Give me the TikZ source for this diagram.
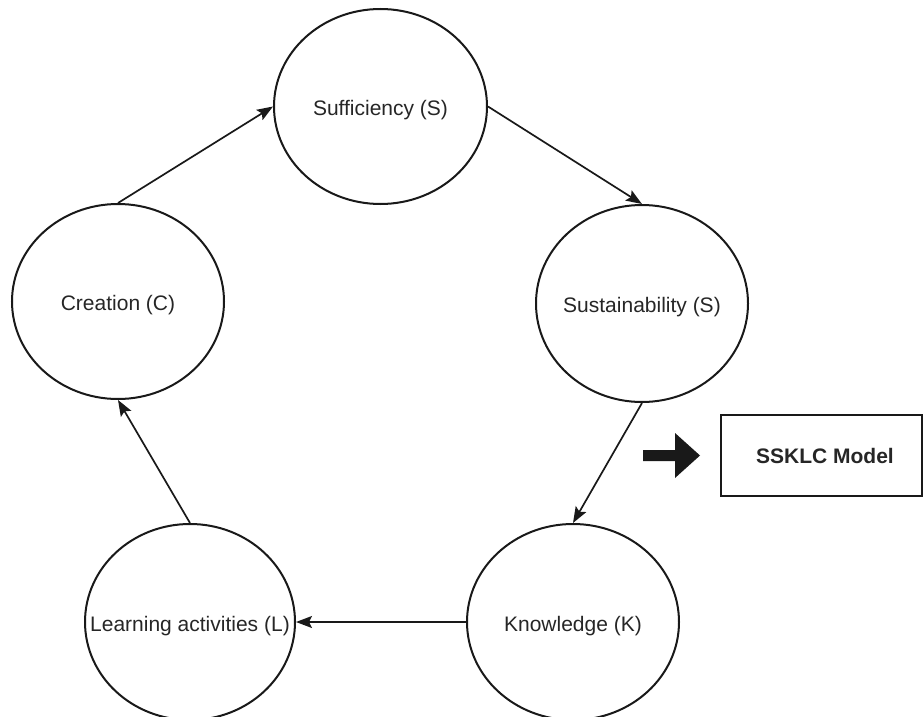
\documentclass[tikz,border=0pt]{standalone}
\usepackage{fontspec}
\setmainfont{Liberation Sans}
\usetikzlibrary{shapes.geometric,arrows.meta}
\tikzset{
  circ/.style={draw=black!90, line width=2pt, ellipse, inner sep=0pt},
  lbl/.style={inner sep=0pt, font=\fontsize{21}{25}\selectfont, text=black!85, yshift=-4pt},
  conn/.style={draw=black!90, line width=1.7pt, -{Stealth[length=16pt,width=12pt,inset=3pt]}},
  modelbox/.style={draw=black!90, line width=2pt, rectangle, inner sep=0pt, minimum width=201pt, minimum height=81pt, font=\bfseries\fontsize{21}{25}\selectfont, text=black!85}
}
\begin{document}
\begin{tikzpicture}[x=1pt,y=-1pt]
\useasboundingbox (0,0) rectangle (924,717);
\node[circ, minimum width=213pt, minimum height=195pt] (suf) at (380.5,106.5) {};
\node[circ, minimum width=212pt, minimum height=197pt] (sus) at (642,303.5) {};
\node[circ, minimum width=212pt, minimum height=196pt] (kno) at (573,622) {};
\node[circ, minimum width=210pt, minimum height=196pt] (lea) at (190,622) {};
\node[circ, minimum width=212pt, minimum height=195pt] (cre) at (118,301.5) {};
\node[lbl] (sufl) at (suf) {Sufficiency (S)};
\node[lbl] (susl) at (sus) {Sustainability (S)};
\node[lbl] (knol) at (kno) {Knowledge (K)};
\node[lbl] (leal) at (lea) {Learning activities (L)};
\node[lbl] (crel) at (cre) {Creation (C)};
\node[modelbox] (model) at (821,455.5) {\hspace{8pt}SSKLC Model};
\draw[conn] (suf.east) -- (sus.north);
\draw[conn] (sus.south) -- (kno.north);
\draw[conn] (kno.west) -- (lea.east);
\draw[conn] (lea.north) -- (cre.south);
\draw[conn] (cre.north) -- (suf.west);
\fill[black!90] (643,450) -- (675,450) -- (675,433) -- (700,455.5) -- (675,478) -- (675,461) -- (643,461) -- cycle;
\end{tikzpicture}
\end{document}
